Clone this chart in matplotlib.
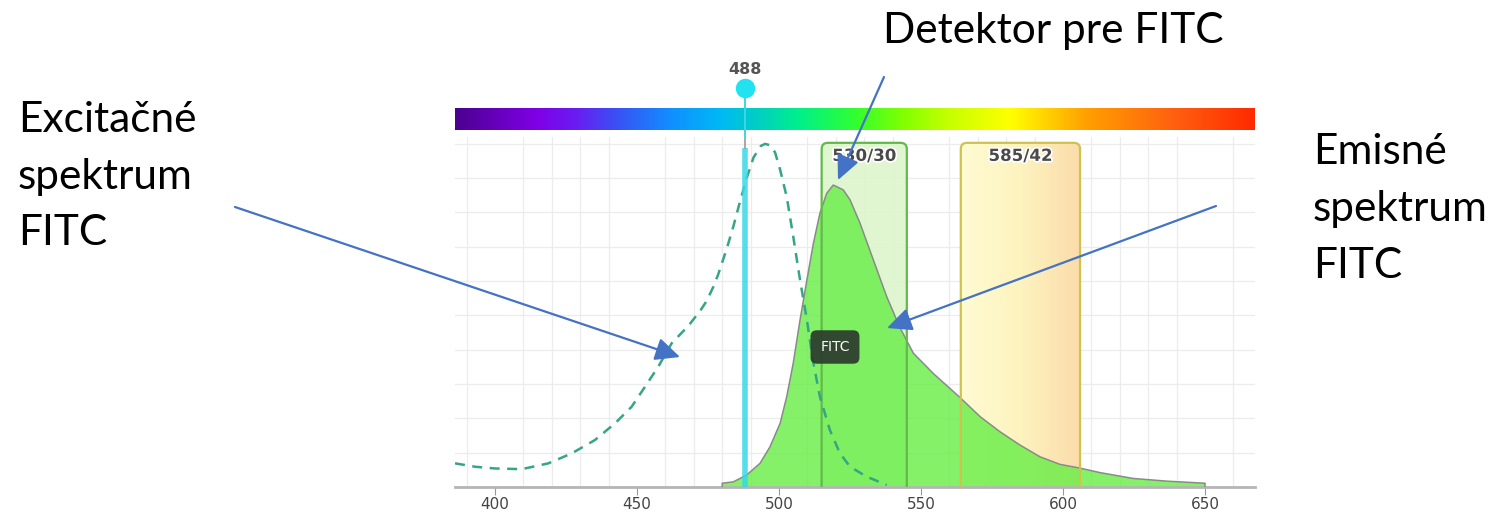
import numpy as np
import matplotlib.pyplot as plt
from matplotlib.colors import LinearSegmentedColormap
from matplotlib.patches import FancyBboxPatch, FancyArrowPatch
import matplotlib.patheffects as pe

# ----------------------------
# Data
# ----------------------------
# excitation spectrum of FITC (dashed)
ex_nm = [385.9, 393.0, 400.0, 409.4, 418.8, 427.0, 435.2, 442.3, 448.1, 452.8,
         457.5, 462.2, 468.1, 472.2, 474.5, 476.9, 478.6, 481.6, 483.9, 486.2,
         488.6, 491.0, 493.6, 495.1, 496.8, 498.6, 500.4, 502.7, 505.0, 507.4,
         509.8, 512.1, 514.4, 517.9, 521.4, 525.0, 530.9, 537.9]
ex_val = [6.9, 5.9, 5.4, 5.2, 6.9, 9.8, 13.7, 18.6, 23.4, 29.2,
          35.1, 41.9, 47.0, 51.3, 54.2, 58.4, 62.0, 69.5, 75.9, 83.0,
          90.0, 96.0, 99.4, 100.0, 99.6, 97.5, 92.4, 84.6, 73.0, 60.3,
          48.7, 36.1, 26.3, 16.6, 9.9, 5.9, 3.0, 0.6]

# emission spectrum of FITC (filled)
em_nm = [480.0, 483.9, 488.6, 493.3, 496.8, 500.4, 502.7, 505.0, 507.4, 509.8,
         512.1, 514.4, 516.8, 519.1, 522.6, 525.0, 528.5, 533.2, 537.9, 542.6,
         547.3, 554.3, 563.7, 570.8, 577.8, 584.9, 591.9, 598.9, 606.0, 613.0,
         624.6, 636.6, 650.0]
em_val = [1.1, 1.5, 3.5, 6.9, 11.7, 18.6, 26.3, 36.1, 48.7, 60.3,
          71.0, 79.8, 85.6, 88.0, 86.6, 83.7, 76.9, 66.2, 55.5, 46.4,
          39.0, 33.1, 26.1, 20.5, 16.1, 12.2, 8.8, 6.6, 5.5, 4.2,
          2.5, 1.7, 1.1]

laser_nm = 488
filter_names = ["530/30", "585/42"]
filter_center = [530, 585]
filter_width = [30, 42]
xticks = [400, 450, 500, 550, 600, 650]

left_lines = ["Excitačné", "spektrum", "FITC"]
right_lines = ["Emisné", "spektrum", "FITC"]
top_label = "Detektor pre FITC"

# colour stops of the wavelength bar
bar_colors = ["#4b0090", "#7f00e6", "#6a1cf2", "#3a50f5", "#1090ff", "#00b8f5",
              "#00d0c0", "#00f08a", "#30ff30", "#80ff00", "#c8ff00", "#ffff00",
              "#ffa000", "#ff6010", "#ff2a00"]
bar_pos = [0.0, 0.1, 0.15, 0.2, 0.27, 0.33, 0.38, 0.43, 0.5, 0.56, 0.62, 0.695,
           0.79, 0.9, 1.0]

W, H = 1502, 513
fig = plt.figure(figsize=(W / 100, H / 100), dpi=100)

# ----------------------------
# Wavelength colour bar
# ----------------------------
ax_bar = fig.add_axes([455 / W, 1 - 130 / H, 800 / W, 22 / H])
cmap = LinearSegmentedColormap.from_list("spec", list(zip(bar_pos, bar_colors)))
ax_bar.imshow(np.linspace(0, 1, 512)[None, :], aspect="auto", cmap=cmap)
ax_bar.axis("off")

# ----------------------------
# Main axes
# ----------------------------
ax = fig.add_axes([455 / W, 1 - 487 / H, 800 / W, 350 / H])
ax.set_zorder(2)
ax.patch.set_alpha(0)
ax.set_xlim(385.9, 667.6)
ax.set_ylim(0, 102)

ax.set_xticks(xticks)
ax.set_xticks(np.arange(390, 668, 10), minor=True)
ax.set_yticks(np.arange(0, 101, 10), minor=True)
ax.set_yticks([])
ax.grid(True, which="minor", color="#ececec", lw=0.9, zorder=0)
ax.tick_params(axis="x", which="major", length=6, color="#999999", labelsize=11,
               labelcolor="#444444", pad=1.5)
ax.tick_params(which="minor", length=0)
for s in ["top", "right", "left"]:
    ax.spines[s].set_visible(False)
ax.spines["bottom"].set_color("#b5b5b5")
ax.spines["bottom"].set_linewidth(2)
ax.set_axisbelow(True)

# filter bands
asp = 2.84 / 3.43
band_fill = ["#dcf6cc", "#fdf6c3"]
band_edge = ["#62b94a", "#cfc24f"]
for i, name in enumerate(filter_names):
    lo = filter_center[i] - filter_width[i] / 2
    hi = filter_center[i] + filter_width[i] / 2
    box = FancyBboxPatch((lo, -5), hi - lo, 105.3, boxstyle="round,pad=0,rounding_size=2.2",
                         mutation_aspect=asp, facecolor=band_fill[i], edgecolor="none",
                         alpha=0.9, zorder=1)
    ax.add_patch(box)
    if i == 1:
        grad = LinearSegmentedColormap.from_list("g", ["#fffbd2", "#fdf3bf", "#fbdcaa"])
        im = ax.imshow(np.linspace(0, 1, 64)[None, :], extent=(lo, hi, -5, 100.3),
                       aspect="auto", cmap=grad, zorder=1.1)
        im.set_clip_path(box)
    edge = FancyBboxPatch((lo, -5), hi - lo, 105.3, boxstyle="round,pad=0,rounding_size=2.2",
                          mutation_aspect=asp, facecolor="none", edgecolor=band_edge[i],
                          lw=1.6, zorder=4)
    ax.add_patch(edge)
    ax.text(filter_center[i], 96.5, name, ha="center", va="center", fontsize=12,
            fontweight="bold", color="#4a4a4a", zorder=6,
            path_effects=[pe.withStroke(linewidth=2.5, foreground="white")])

# emission
ax.fill([em_nm[0]] + em_nm + [em_nm[-1]], [0] + em_val + [0], facecolor="#66ee44",
        alpha=0.8, edgecolor="none", zorder=2)
ax.plot([em_nm[0]] + em_nm + [em_nm[-1]], [0] + em_val + [0], color="#8a8a8a",
        lw=1.1, zorder=3)

# excitation
ax.plot(ex_nm, ex_val, color="#35a585", lw=1.8, dashes=(4, 3), zorder=5)

# 488 laser line
ax.plot([laser_nm, laser_nm], [0, 98.8], color="#38d8e8", lw=4, alpha=0.85,
        solid_capstyle="butt", zorder=5)
ax.plot([laser_nm, laser_nm], [98.8, 116], color="#9a9a9a", lw=1.2, clip_on=False, zorder=5)
ax.plot([laser_nm, laser_nm], [102, 116], color="#30e0f0", lw=1.2, clip_on=False, zorder=5)
ax.plot([laser_nm], [116.3], "o", ms=13, color="#22e2f2", clip_on=False, zorder=6)
ax.text(laser_nm, 121.8, str(laser_nm), ha="center", va="center", fontsize=11.5,
        fontweight="bold", color="#555555", clip_on=False)

# FITC tag
ax.text(519.7, 40.8, "FITC", ha="center", va="center", fontsize=10, color="white",
        zorder=7, bbox=dict(boxstyle="round,pad=0.7,rounding_size=0.45", fc="#2c3a2c",
                            ec="none", alpha=0.92))

# ----------------------------
# Slide annotations
# ----------------------------
txt_font = ["Lato", "DejaVu Sans"]
for k, s in enumerate(left_lines):
    fig.text(18 / W, 1 - (132 + 56.5 * k) / H, s, fontsize=30.5, family=txt_font,
             va="baseline", ha="left")
for k, s in enumerate(right_lines):
    fig.text(1313 / W, 1 - (164 + 57 * k) / H, s, fontsize=30.5, family=txt_font,
             va="baseline", ha="left")
fig.text(883 / W, 1 - 43 / H, top_label, fontsize=30.5, family=txt_font,
         va="baseline", ha="left")

arrow_kw = dict(arrowstyle="-|>,head_length=0.75,head_width=0.35", mutation_scale=20,
                color="#4472c4", lw=1.6, shrinkA=0, shrinkB=0, zorder=10)
arrows = [((235, 207), (680, 357)), ((884, 77), (838, 180)), ((1216, 206), (887, 328))]
for (x0, y0), (x1, y1) in arrows:
    fig.add_artist(FancyArrowPatch((x0, H - y0), (x1, H - y1), transform=None, **arrow_kw))

fig.savefig("out.png", dpi=100)
